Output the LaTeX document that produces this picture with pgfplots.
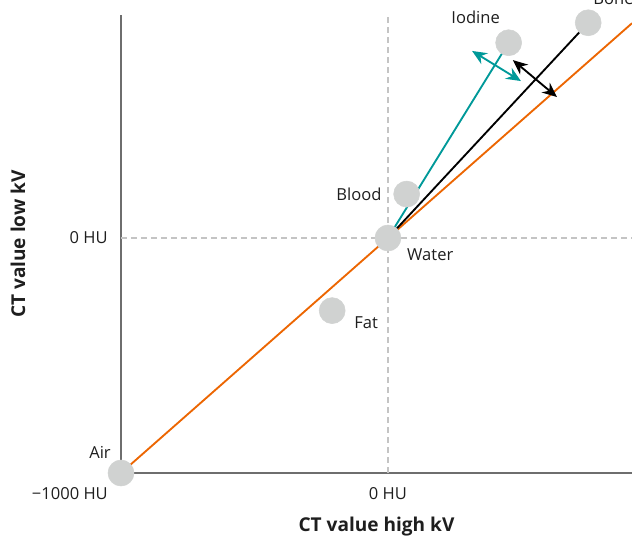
\documentclass[border=0pt]{standalone}
\usepackage{pgfplots}
\pgfplotsset{compat=1.18}
\usepackage{fontspec}
\setmainfont{Open Sans}
\usetikzlibrary{arrows.meta}
\definecolor{siorange}{HTML}{EC6602}
\definecolor{sipetrol}{HTML}{009999}
\definecolor{tissue}{HTML}{D0D2D1}
\definecolor{axisgray}{HTML}{6E6E6E}
\definecolor{guidegray}{HTML}{C4C4C4}
\definecolor{txt}{HTML}{1E1E1E}

% tissue positions in HU: high kV (x), low kV (y)
\pgfplotstableread{
x     y
-1000 -1000
0     0
-209  -309
70    187
452   831
750   916
}\tissues

\begin{document}
\begin{tikzpicture}[font=\fontsize{12.4}{14.5}\selectfont, text=txt,
  every node/.style={inner sep=0pt},
  dblarrow/.style={line width=1.4pt, {Stealth[length=11pt,width=9.5pt]}-{Stealth[length=11pt,width=9.5pt]}}]
\begin{axis}[
  scale only axis, width=383.25pt, height=343.5pt,
  xmin=-1000, xmax=914, ymin=-1000, ymax=949,
  axis x line*=bottom, axis y line*=left,
  axis line style={axisgray, line width=1.1pt, -},
  xtick=\empty, ytick=\empty,
  clip=false,
]
% dashed guides through water
\addplot[guidegray, line width=1pt, dash pattern=on 4.5pt off 3pt] coordinates {(0,-1000) (0,949)};
\addplot[guidegray, line width=1pt, dash pattern=on 4.5pt off 3pt] coordinates {(-1000,0) (914,0)};
% identity line
\addplot[siorange, line width=1.4pt] coordinates {(-1000,-1000) (914,914)};
% enhancement vectors
\addplot[sipetrol, line width=1.4pt] coordinates {(0,0) (452,831)};
\addplot[black, line width=1.4pt] coordinates {(0,0) (750,916)};
% separation arrows
\addplot[sipetrol, dblarrow] coordinates {(315,796) (498,668)};
\addplot[black, dblarrow] coordinates {(468,757) (633,600)};
% tissues
\addplot[only marks, mark=*, mark size=9.75pt, color=tissue, mark options={draw=tissue, fill=tissue}] table[x=x, y=y] {\tissues};

\node[anchor=east] at (axis cs:-1000,-1000) [xshift=-7.5pt, yshift=15.75pt] {Air};
\node[anchor=west] at (axis cs:-209,-309) [xshift=16.5pt, yshift=-9pt] {Fat};
\node[anchor=west] at (axis cs:0,0) [xshift=14.25pt, yshift=-12.75pt] {Water};
\node[anchor=east] at (axis cs:70,187) [xshift=-18.75pt] {Blood};
\node at (axis cs:452,831) [xshift=-24.75pt, yshift=18.75pt] {Iodine};
\node[anchor=west] at (axis cs:750,916) [xshift=3.75pt, yshift=18pt] {Bone};

% value labels
\node[anchor=east] at (axis cs:-1000,-1000) [xshift=-9.75pt, yshift=-15.75pt] {−1000 HU};
\node at (axis cs:0,-1000) [yshift=-15.75pt] {0 HU};
\node[anchor=east] at (axis cs:-1000,0) [xshift=-9.75pt] {0 HU};

% axis titles
\node[font=\fontsize{14.3}{17}\selectfont\bfseries] at ([yshift=-40.5pt]rel axis cs:0.5,0) {CT value high kV};
\node[font=\fontsize{14.3}{17}\selectfont\bfseries, rotate=90] at ([xshift=-77.25pt]rel axis cs:0,0.5) {CT value low kV};
\end{axis}
\pgfresetboundingbox
\path[use as bounding box] (-90.75pt,-48pt) rectangle (383.25pt,354.75pt);
\end{tikzpicture}
\end{document}
